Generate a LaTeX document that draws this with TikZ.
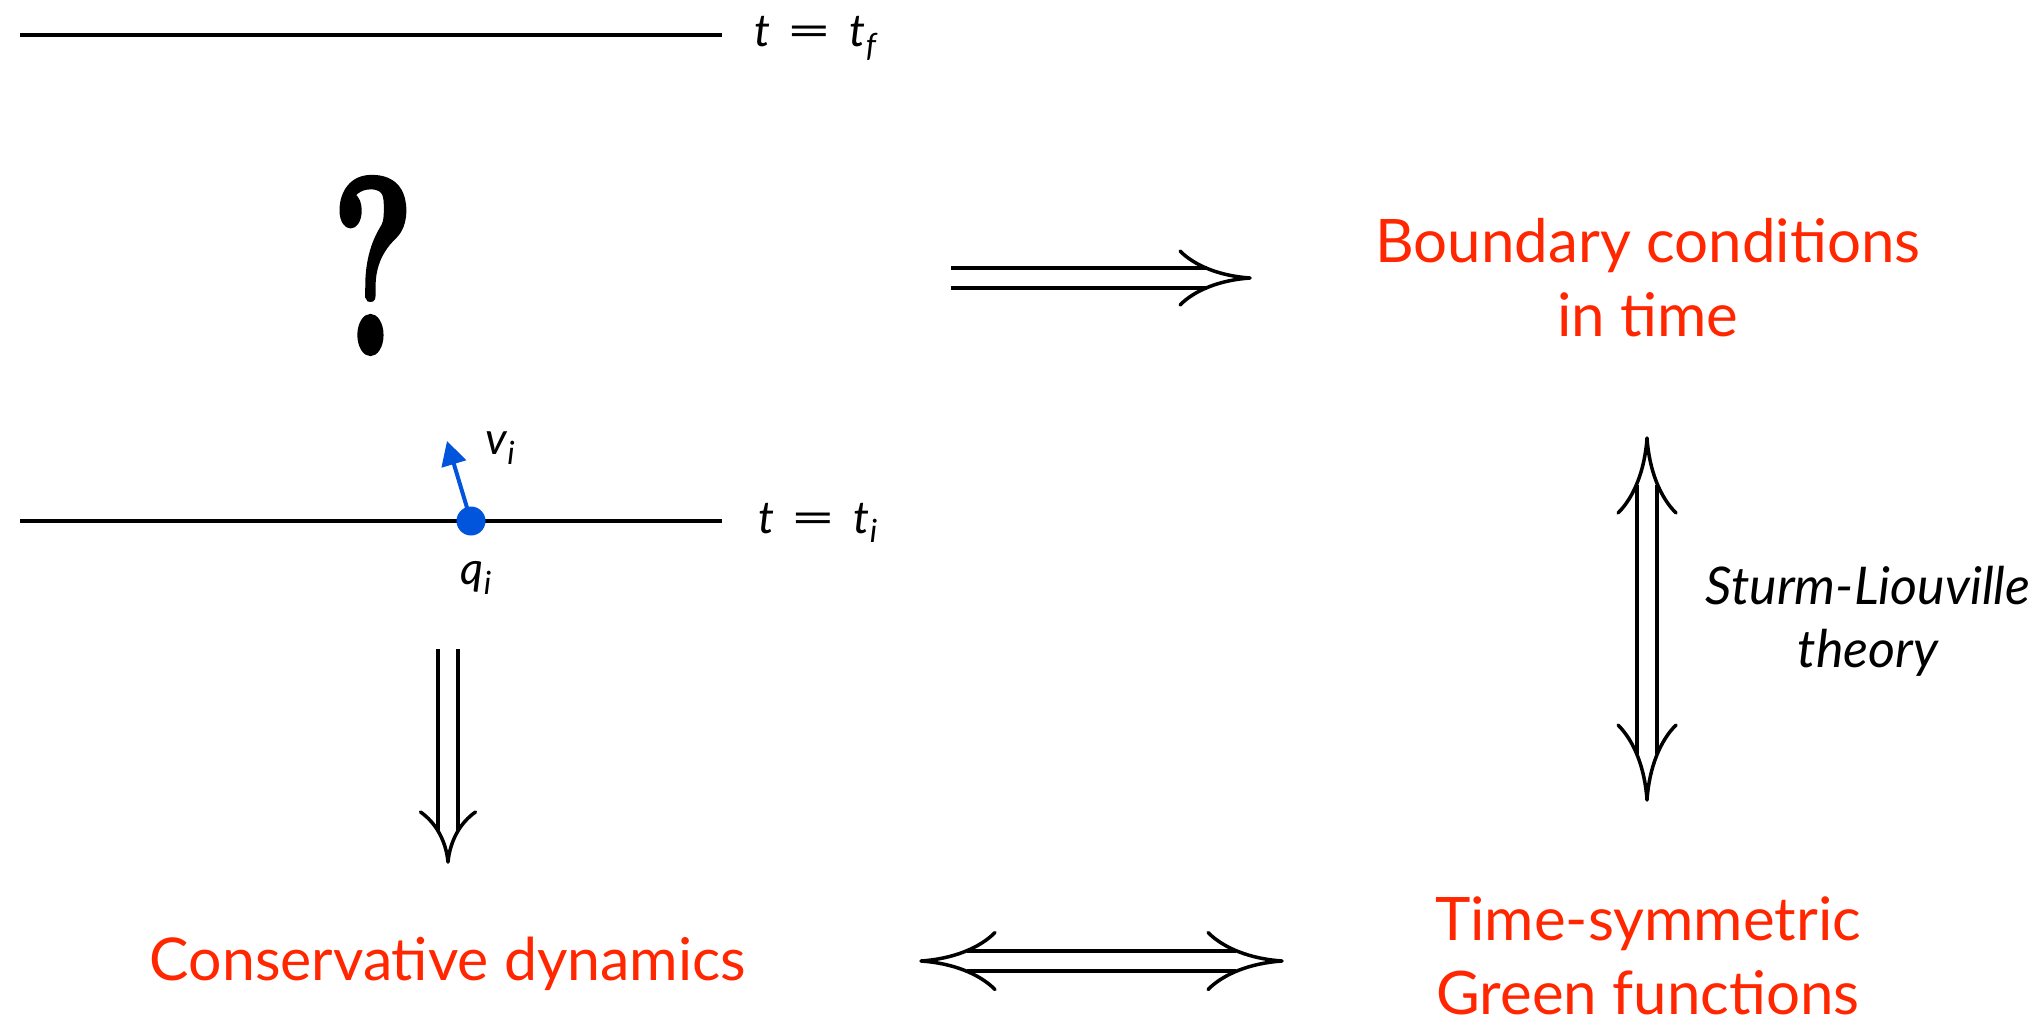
\documentclass[tikz,border=0pt]{standalone}
\usepackage{fontspec}
\setmainfont{Lato}
\usetikzlibrary{arrows.meta}
\definecolor{kred}{RGB}{255,38,0}
\definecolor{kblue}{RGB}{0,85,220}
\newcommand{\lowsub}[1]{\raisebox{-0.22em}{\fontsize{32}{32}\selectfont\itshape #1}}
\newcommand{\wideeq}{\hspace{16pt}\scalebox{1.75}[1]{=}\hspace{18pt}}
\pgfdeclarearrow{
  name = DHook,
  cache = false,
  parameters = {\the\pgfarrowlength,\the\pgfarrowwidth},
  setup code = {
    \pgfarrowssettipend{0pt}
    \pgfarrowssetlineend{-.62\pgfarrowlength}
    \pgfarrowssetbackend{-\pgfarrowlength}
    \pgfarrowsupperhullpoint{-\pgfarrowlength}{.5\pgfarrowwidth}
    \pgfarrowsupperhullpoint{0pt}{0pt}
    \pgfarrowssavethe\pgfarrowlength
    \pgfarrowssavethe\pgfarrowwidth
  },
  drawing code = {
    \pgfsetdash{}{+0pt}
    \pgfsetroundcap
    \pgfsetroundjoin
    \pgfsetlinewidth{3.5pt}
    \pgfpathmoveto{\pgfqpoint{-\pgfarrowlength}{.5\pgfarrowwidth}}
    \pgfpathcurveto{\pgfqpoint{-.79\pgfarrowlength}{.225\pgfarrowwidth}}{\pgfqpoint{-.43\pgfarrowlength}{.0375\pgfarrowwidth}}{\pgfqpoint{0pt}{0pt}}
    \pgfpathcurveto{\pgfqpoint{-.43\pgfarrowlength}{-.0375\pgfarrowwidth}}{\pgfqpoint{-.79\pgfarrowlength}{-.225\pgfarrowwidth}}{\pgfqpoint{-\pgfarrowlength}{-.5\pgfarrowwidth}}
    \pgfusepathqstroke
  },
  defaults = {length = 72pt, width = 56pt}
}
\begin{document}
\begin{tikzpicture}[x=1pt,y=-1pt,
  timeline/.style={line width=4.5pt},
  redtext/.style={text=kred, font=\fontsize{60}{74}\selectfont, align=center, inner sep=0pt},
  mathlbl/.style={font=\fontsize{45}{45}\selectfont, inner sep=0pt},
  dblline/.style={line width=3.5pt, double distance=16.5pt, double=white}
]
\useasboundingbox (0,0) rectangle (2039,1025);

% time lines
\coordinate (tfA) at (20,35);
\coordinate (tfB) at (722,35);
\draw[timeline] (tfA) -- (tfB);
\node[mathlbl, anchor=base west] (tflbl) at (754,47) {\textit{t}\wideeq\textit{t}\lowsub{f}};

\coordinate (tiA) at (20,521);
\coordinate (tiB) at (722,521);
\draw[timeline] (tiA) -- (tiB);
\node[mathlbl, anchor=base west] (tilbl) at (758,533) {\textit{t}\wideeq\textit{t}\lowsub{i}};

% question mark
\node[inner sep=0pt, anchor=base] (qmark) at (373,353) {\fontsize{250}{250}\fontspec[FakeBold=2.5]{Latin Modern Roman}\bfseries\scalebox{0.62}[1]{?}};

% particle
\node[circle, fill=kblue, minimum size=29pt, inner sep=0pt] (q) at (471,521) {};
\coordinate (vtip) at (447,441);
\draw[kblue, line width=4pt, -{Triangle[length=24pt,width=25pt]}] (q.center) -- (vtip);
\node[mathlbl] (vlbl) at (500,448) {\textit{v}\lowsub{i}};
\node[mathlbl] (qlbl) at (476,578) {\textit{q}\lowsub{i}};

% red texts
\node[redtext] (bc) at (1648,278) {Boundary conditions\\in time};
\node[redtext] (gf) at (1648,956) {Time-symmetric\\Green functions};
\node[redtext, font=\fontsize{59}{74}\selectfont] (cd) at (448,964) {Conservative dynamics};

\node[font=\fontsize{52}{63}\selectfont\itshape, align=center, inner sep=0pt] (sl) at (1868,621) {Sturm-Liouville\\theory};

% double arrows
\coordinate (rA) at (951,278);
\coordinate (rB) at (1250,278);
\draw[dblline, -{DHook[length=70pt,width=54pt]}] (rA) -- (rB);

\coordinate (vA) at (1647,438);
\coordinate (vB) at (1647,800);
\draw[dblline, {DHook[length=75pt,width=58pt]}-{DHook[length=75pt,width=58pt]}] (vA) -- (vB);

\coordinate (dA) at (448,649);
\coordinate (dB) at (448,862);
\draw[dblline, -{DHook[length=50pt,width=55pt]}] (dA) -- (dB);

\coordinate (hA) at (921,961);
\coordinate (hB) at (1282,961);
\draw[dblline, {DHook[length=74pt,width=57pt]}-{DHook[length=74pt,width=57pt]}] (hA) -- (hB);
\end{tikzpicture}
\end{document}
